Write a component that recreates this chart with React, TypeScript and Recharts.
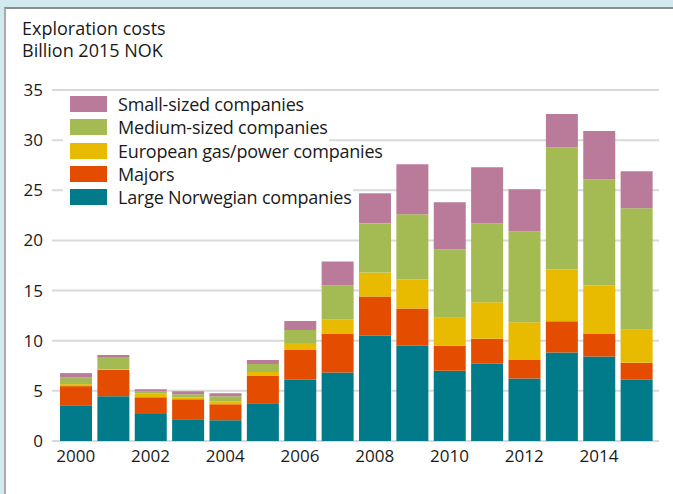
import React from 'react';
import { BarChart, Bar, XAxis, YAxis, CartesianGrid, Legend } from 'recharts';

const years = ['2000', '2001', '2002', '2003', '2004', '2005', '2006', '2007', '2008', '2009', '2010', '2011', '2012', '2013', '2014', '2015'];

// billion 2015 NOK
const largeNorwegian = [3.5, 4.47, 2.7, 2.17, 2.07, 3.77, 6.1, 6.83, 10.5, 9.5, 7.0, 7.7, 6.23, 8.83, 8.43, 6.1];
const majors = [1.97, 2.6, 1.67, 2.0, 1.6, 2.7, 2.97, 3.9, 3.9, 3.7, 2.5, 2.5, 1.9, 3.1, 2.3, 1.7];
const europeanGas = [0.2, 0.06, 0.4, 0.2, 0.26, 0.4, 0.7, 1.4, 2.4, 2.9, 2.8, 3.63, 3.7, 5.17, 4.77, 3.3];
const mediumSized = [0.7, 1.17, 0.2, 0.3, 0.54, 0.8, 1.3, 3.37, 4.9, 6.5, 6.8, 7.87, 9.07, 12.2, 10.6, 12.1];
const smallSized = [0.4, 0.27, 0.2, 0.3, 0.3, 0.4, 0.9, 2.4, 3.0, 5.0, 4.7, 5.6, 4.2, 3.3, 4.8, 3.7];

const yTicks = [0, 5, 10, 15, 20, 25, 30, 35];

const SERIES = [
  { key: 'largeNorwegian', name: 'Large Norwegian companies', color: '#017b89', values: largeNorwegian },
  { key: 'majors', name: 'Majors', color: '#e44d00', values: majors },
  { key: 'europeanGas', name: 'European gas/power companies', color: '#e8ba00', values: europeanGas },
  { key: 'mediumSized', name: 'Medium-sized companies', color: '#a4ba52', values: mediumSized },
  { key: 'smallSized', name: 'Small-sized companies', color: '#b97b99', values: smallSized },
];

const data = years.map((year, i) => {
  const row: Record<string, string | number> = { year };
  SERIES.forEach(s => { row[s.key] = s.values[i]; });
  return row;
});

const FONT = '"Open Sans", sans-serif';

// each legend row has its own white backing, so grid lines stop just after the text
const LegendBox = () => (
  <div style={{ fontFamily: FONT, fontSize: 18, letterSpacing: -0.2, color: '#1a1a1a', whiteSpace: 'nowrap' }}>
    {[...SERIES].reverse().map(s => (
      <div key={s.key} style={{ display: 'flex', alignItems: 'flex-start', height: 23.3, width: 'max-content', background: '#fff', padding: '0 1px 0 7px' }}>
        <span style={{ display: 'inline-block', width: 37, height: 16, marginTop: 1, background: s.color, marginRight: 11, flex: 'none' }} />
        <span style={{ lineHeight: '18px' }}>{s.name}</span>
      </div>
    ))}
  </div>
);

export default function App() {
  return (
    <div style={{ position: 'absolute', left: 0, top: 0, width: 673, height: 494, background: '#d3e9f0', overflow: 'hidden' }}>
      <div style={{
        position: 'absolute', left: 4, top: 7, width: 669, height: 487, background: '#fff',
        borderLeft: '2px solid #aaaaaa', borderTop: '2px solid #8c8c8c', boxSizing: 'border-box',
      }} />
      <div style={{ position: 'absolute', left: 22, top: 17, fontFamily: FONT, fontSize: 18, lineHeight: '22px', color: '#1a1a1a' }}>
        <div>Exploration costs</div>
        <div>Billion 2015 NOK</div>
      </div>
      <div style={{ position: 'absolute', left: 0, top: 0 }}>
        <BarChart width={673} height={494} data={data} margin={{ top: 90, right: 14, bottom: 23, left: 0 }}>
          <CartesianGrid vertical={false} stroke="#d9d9d9" strokeWidth={2} />
          <XAxis
            dataKey="year"
            height={30}
            interval={1}
            axisLine={false}
            tickLine={false}
            tickMargin={3}
            padding={{ left: 5, right: 4 }}
            tick={{ fill: '#1a1a1a', fontSize: 17, fontFamily: FONT }}
          />
          <YAxis
            width={52}
            domain={[0, 35]}
            ticks={yTicks}
            axisLine={false}
            tickLine={false}
            tickMargin={3}
            tick={{ fill: '#1a1a1a', fontSize: 17, fontFamily: FONT }}
          />
          <Legend
            layout="vertical"
            align="center"
            verticalAlign="middle"
            content={<LegendBox />}
            wrapperStyle={{ left: 63, top: 95, width: 340, height: 117 }}
          />
          {SERIES.map(s => (
            <Bar key={s.key} dataKey={s.key} name={s.name} stackId="a" fill={s.color} barSize={32} isAnimationActive={false} />
          ))}
        </BarChart>
      </div>
    </div>
  );
}
